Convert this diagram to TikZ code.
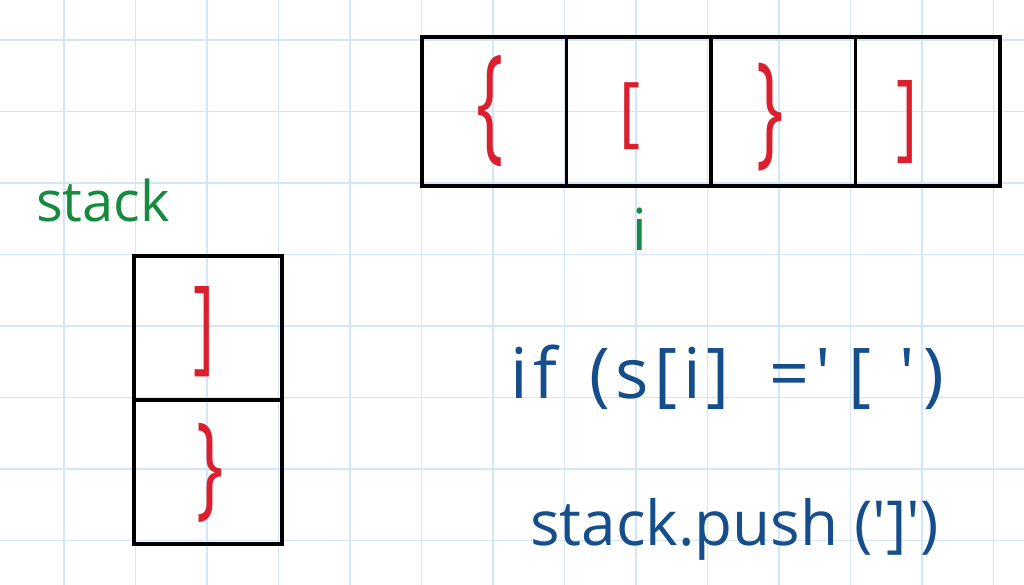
\documentclass[tikz,border=0pt]{standalone}
\usepackage{fontspec}
\newfontfamily\hand{Open Sans}[Ligatures=TeXOff]
\newfontfamily\handwide{Open Sans}[Ligatures=TeXOff,LetterSpace=8]
\definecolor{gridblue}{RGB}{210,230,247}
\definecolor{inkred}{RGB}{218,32,46}
\definecolor{inkgreen}{RGB}{22,138,62}
\definecolor{inkblue}{RGB}{22,78,140}
\tikzset{
  gridline/.style={draw=gridblue, line width=1.2pt},
  cell/.style={draw=black, line width=3.5pt, rectangle, inner sep=0pt, minimum width=144.5pt, minimum height=149pt},
  stackcell/.style={draw=black, line width=3.5pt, rectangle, inner sep=0pt, minimum width=148pt, minimum height=144pt},
  brk/.style={text=inkred, inner sep=0pt},
  greentext/.style={text=inkgreen, inner sep=0pt},
  code/.style={text=inkblue, inner sep=0pt, anchor=base west},
}
\begin{document}
\begin{tikzpicture}[x=1pt,y=-1pt]
\useasboundingbox (0,0) rectangle (1024,585);
\fill[white] (0,0) rectangle (1024,585);
\foreach \x in {64,135.5,207,278.5,350,421.5,493,564.5,636,707.5,779,850.5,922,993.5}
  \draw[gridline] (\x,0) -- (\x,585);
\foreach \y in {40,111.5,183,254.5,326,397.5,469,540.5}
  \draw[gridline] (0,\y) -- (1024,\y);
% array cells
\node[cell] (c1) at (494.25,111.5) {};
\node[cell] (c2) at (638.75,111.5) {};
\node[cell] (c3) at (783.25,111.5) {};
\node[cell] (c4) at (927.75,111.5) {};
\node[brk, font=\hand\fontsize{72}{76}\selectfont] (b1) at (490,111) {\scalebox{1}[1.77]{\{}};
\node[brk, font=\hand\fontsize{64}{68}\selectfont] (b2) at (630,116) {\scalebox{1}[1.2]{[}};
\node[brk, font=\hand\fontsize{72}{76}\selectfont] (b3) at (770,117.5) {\scalebox{1}[1.72]{\}}};
\node[brk, font=\hand\fontsize{64}{68}\selectfont] (b4) at (907,122) {\scalebox{1}[1.49]{]}};
% index label
\node[greentext, font=\hand\fontsize{58}{60}\selectfont, anchor=base] (idx) at (640,250) {i};
% stack
\node[greentext, font=\hand\fontsize{56}{60}\selectfont, anchor=base west] (stacklabel) at (36,222) {stack};
\node[stackcell] (s1) at (208,328) {};
\node[stackcell] (s2) at (208,472) {};
\node[brk, font=\hand\fontsize{64}{68}\selectfont] (sb1) at (204,331.5) {\scalebox{1}[1.62]{]}};
\node[brk, font=\hand\fontsize{72}{76}\selectfont] (sb2) at (210,472.5) {\scalebox{1}[1.58]{\}}};
% code
\node[code, font=\handwide\fontsize{70}{76}\selectfont] (line1) at (510,398) {if\hspace{32pt}(s[i]\hspace{40pt}='\hspace{18pt}[\hspace{28pt}'\hspace{8pt})};
\node[code, font=\hand\fontsize{62}{70}\selectfont] (line2) at (530,545) {stack.push (']')};
\end{tikzpicture}
\end{document}
